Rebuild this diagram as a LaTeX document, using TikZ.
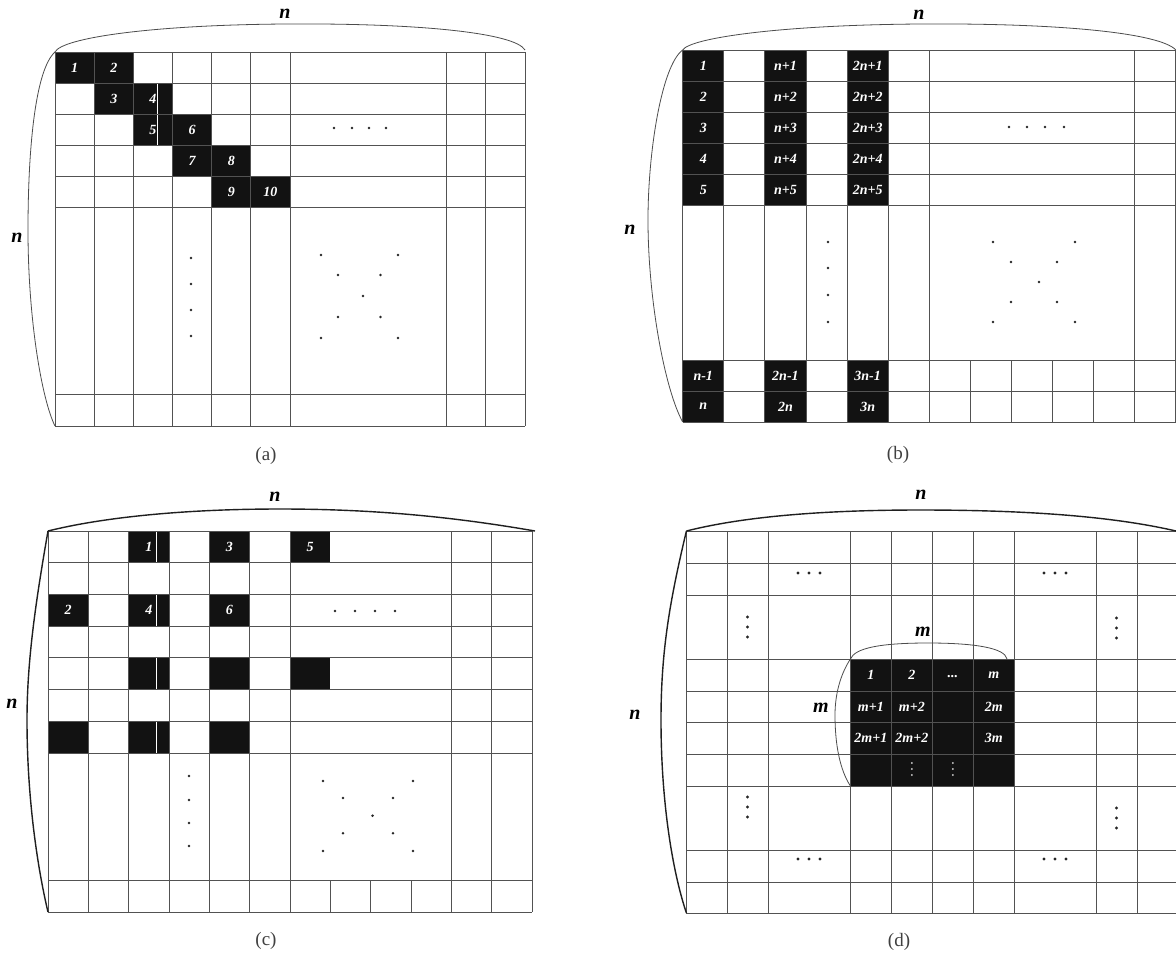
\documentclass[tikz,border=0pt]{standalone}
\usepackage{fontspec}
\setmainfont{Liberation Serif}
\begin{document}
\begin{tikzpicture}[x=1pt,y=-1pt,
  gridln/.style={draw=black!68, line width=0.9pt},
  dark/.style={fill=black!93},
  num/.style={text=white, font=\fontsize{14}{14}\selectfont\bfseries\itshape, inner sep=0pt},
  dimlab/.style={font=\fontsize{20}{20}\selectfont\bfseries\itshape, inner sep=0pt},
  panlab/.style={font=\fontsize{19}{19}\selectfont, text=black!75, inner sep=0pt},
  brace/.style={draw=black!70, line width=0.8pt},
  bracethick/.style={draw=black!88, line width=1.4pt},
  dotm/.style={fill=black!85},
  art/.style={draw=white, line width=0.7pt}]
\useasboundingbox (0,0) rectangle (1176,954);
\fill[white] (0,0) rectangle (1176,954);

% ================= (a) =================
\foreach \c/\r/\t [count=\k] in {0/0/1,1/0/2,1/1/3,2/1/4,2/2/5,3/2/6,3/3/7,4/3/8,4/4/9,5/4/10} {
  \fill[dark] ({55+\c*39.17},{52+\r*31}) rectangle ({55+(\c+1)*39.17},{52+(\r+1)*31});
}
\draw[art] (157,83) -- (157,145);
\foreach \y in {52,83,114,145,176,207,394,426} \draw[gridln] (55,\y) -- (525,\y);
\foreach \i in {0,...,6,10,11,12} \draw[gridln] ({55+\i*39.17},52) -- ({55+\i*39.17},426);
\foreach \c/\r/\t [count=\k] in {0/0/1,1/0/2,1/1/3,2/1/4,2/2/5,3/2/6,3/3/7,4/3/8,4/4/9,5/4/10} {
  \node[num] (a\k) at ({55+(\c+0.5)*39.17},{52+(\r+0.5)*31}) {\t};
}
\foreach \x in {334,352,369,386} \fill[dotm] (\x,128) circle (1.4pt);
\foreach \y in {258,284,310,336} \fill[dotm] (191,\y) circle (1.4pt);
\foreach \x/\y in {321/255,398/255,338/275,380.5/275,363/296,338/317,380.5/317,321/338,398/338} \fill[dotm] (\x,\y) circle (1.4pt);
\draw[brace] (55,52) .. controls (62,38) and (150,25) .. (285,24) .. controls (420,23) and (515,33) .. (525,50);
\draw[brace] (55,52) .. controls (35,70) and (28,150) .. (28,230) .. controls (28,320) and (42,400) .. (55,426);
\node[dimlab] (atop) at (285,14) {n};
\node[dimlab] (aleft) at (17,238) {n};
\node[panlab] (alab) at (266,456) {(a)};

% ================= (b) =================
\foreach \c in {0,2,4} {
  \fill[dark] ({682.7+\c*41.1},50) rectangle ({682.7+(\c+1)*41.1},205);
  \fill[dark] ({682.7+\c*41.1},360) rectangle ({682.7+(\c+1)*41.1},422);
}
\foreach \y in {50,81,112,143,174,205,360,391,422} \draw[gridln] (682.7,\y) -- (1175.9,\y);
\foreach \i in {0,...,6,11,12} \draw[gridln] ({682.7+\i*41.1},50) -- ({682.7+\i*41.1},422);
\foreach \i in {7,...,10} \draw[gridln] ({682.7+\i*41.1},360) -- ({682.7+\i*41.1},422);
\foreach \r [count=\k] in {0,...,4} {
  \node[num] (b1\k) at ({682.7+0.5*41.1},{50+(\r+0.5)*31}) {\k};
  \node[num] (b2\k) at ({682.7+2.5*41.1},{50+(\r+0.5)*31}) {n+\k};
  \node[num] (b3\k) at ({682.7+4.5*41.1},{50+(\r+0.5)*31}) {2n+\k};
}
\node[num] (bb1) at ({682.7+0.5*41.1},375.5) {n-1};
\node[num] (bb2) at ({682.7+2.5*41.1},375.5) {2n-1};
\node[num] (bb3) at ({682.7+4.5*41.1},375.5) {3n-1};
\node[num] (bc1) at ({682.7+0.5*41.1},406.5) {n};
\node[num] (bc2) at ({682.7+2.5*41.1},406.5) {2n};
\node[num] (bc3) at ({682.7+4.5*41.1},406.5) {3n};
\foreach \x in {1009,1027,1045,1064} \fill[dotm] (\x,127) circle (1.4pt);
\foreach \y in {242,268,295,322} \fill[dotm] (828,\y) circle (1.4pt);
\foreach \x/\y in {993/242,1075/242,1011/262,1057/262,1039/282,1011/302,1057/302,993/322,1075/322} \fill[dotm] (\x,\y) circle (1.4pt);
\draw[brace] (682.7,50) .. controls (690,38) and (780,25) .. (920,24) .. controls (1060,23) and (1160,33) .. (1175.9,50);
\draw[brace] (682.7,50) .. controls (662,65) and (648,150) .. (648,220) .. controls (648,300) and (665,390) .. (682.7,422);
\node[dimlab] (btop) at (919,15) {n};
\node[dimlab] (bleft) at (630,230) {n};
\node[panlab] (blab) at (898,455) {(b)};

% ================= (c) =================
\foreach \c/\r in {2/0,4/0,6/0,0/2,2/2,4/2,2/4,4/4,6/4,0/6,2/6,4/6} {
  \fill[dark] ({48+\c*40.33},{531+\r*31.71}) rectangle ({48+(\c+1)*40.33},{531+(\r+1)*31.71});
}
\foreach \r in {0,2,4,6} \draw[art] (156,{531+\r*31.71}) -- (156,{531+(\r+1)*31.71});
\foreach \r in {0,...,7} \draw[gridln] (48,{531+\r*31.71}) -- (532,{531+\r*31.71});
\foreach \y in {880,912} \draw[gridln] (48,\y) -- (532,\y);
\foreach \i in {0,...,6,10,11,12} \draw[gridln] ({48+\i*40.33},531) -- ({48+\i*40.33},912);
\foreach \i in {7,8,9} \draw[gridln] ({48+\i*40.33},880) -- ({48+\i*40.33},912);
\foreach \c/\r/\t in {2/0/1,4/0/3,6/0/5,0/2/2,2/2/4,4/2/6} {
  \node[num] (c\t) at ({48+(\c+0.5)*40.33},{531+(\r+0.5)*31.71}) {\t};
}
\foreach \x in {335,355,375,395} \fill[dotm] (\x,611) circle (1.4pt);
\foreach \y in {776,800,823,846} \fill[dotm] (189,\y) circle (1.4pt);
\foreach \x/\y in {323/781,413/781,343/798,393/798,372.6/815.7,343/833.3,393/833.3,323/851,413/851} \fill[dotm] (\x,\y) circle (1.4pt);
\draw[bracethick] (48,531) .. controls (100,518) and (180,509) .. (280,509) .. controls (380,509) and (460,518) .. (535,531);
\draw[bracethick] (48,531) .. controls (36,600) and (27,660) .. (27,720) .. controls (27,800) and (38,870) .. (48,912);
\node[dimlab] (ctop) at (275,497) {n};
\node[dimlab] (cleft) at (12,704) {n};
\node[panlab] (clab) at (266,941) {(c)};

% ================= (d) =================
\fill[dark] (850.4,659) rectangle (1014.4,786);
\foreach \y in {531,563,595,659,691,722,754,786,850,882,913} \draw[gridln] (686.4,\y) -- (1180,\y);
\foreach \i in {0,1,2,4,5,6,7,8,10,11,12} \draw[gridln] ({686.4+\i*41},531) -- ({686.4+\i*41},913);
\node[num] (d1) at (870.9,675) {1};
\node[num] (d2) at (911.9,675) {2};
\node[num] (d3) at (952.9,677) {...};
\node[num] (d4) at (993.9,675) {m};
\node[num] (d5) at (870.9,706.5) {m+1};
\node[num] (d6) at (911.9,706.5) {m+2};
\node[num] (d7) at (993.9,706.5) {2m};
\node[num] (d8) at (870.9,738) {2m+1};
\node[num] (d9) at (911.9,738) {2m+2};
\node[num] (d10) at (993.9,738) {3m};
\foreach \x in {911.9,952.9} \foreach \y in {763,769,775} \fill[black!15] (\x,\y) circle (1pt);
\foreach \x in {798,809,820,1044,1055,1066} {
  \fill[dotm] (\x,573) circle (1.6pt);
  \fill[dotm] (\x,859) circle (1.6pt);
}
\foreach \y in {617,627,637} \fill[dotm] (747.5,\y) circle (1.6pt);
\foreach \y in {618,628,638} \fill[dotm] (1116.5,\y) circle (1.6pt);
\foreach \y in {797,807,817} \fill[dotm] (747.5,\y) circle (1.6pt);
\foreach \y in {808,818,828} \fill[dotm] (1116.5,\y) circle (1.6pt);
\draw[bracethick] (686.4,531) .. controls (730,520) and (800,510) .. (920,510) .. controls (1040,510) and (1120,518) .. (1176,531);
\draw[bracethick] (686.4,531) .. controls (670,600) and (661,650) .. (661,720) .. controls (661,800) and (672,870) .. (686.4,913);
\draw[brace] (850.4,659) .. controls (855,648) and (880,643) .. (928,643) .. controls (975,643) and (1005,648) .. (1007,659);
\draw[brace] (850.4,659) .. controls (840,675) and (835,695) .. (835,715) .. controls (835,745) and (840,770) .. (850.4,786);
\node[dimlab] (dtop) at (921,495) {n};
\node[dimlab] (dleft) at (635,715) {n};
\node[dimlab] (mtop) at (923,632) {m};
\node[dimlab] (mleft) at (821,708) {m};
\node[panlab] (dlab) at (899,942) {(d)};
\end{tikzpicture}
\end{document}
